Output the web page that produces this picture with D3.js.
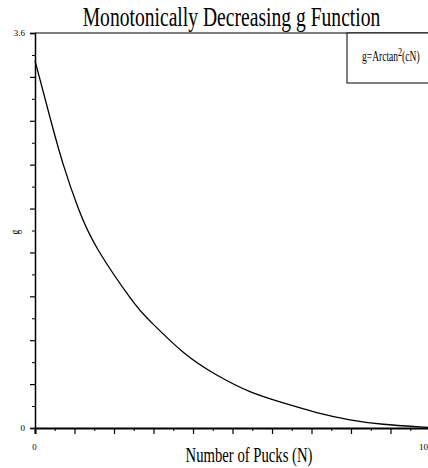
<!DOCTYPE html>
<html>
<head>
<meta charset="utf-8">
<script src="https://cdn.jsdelivr.net/npm/d3@7"></script>
<style>
  html, body { margin: 0; padding: 0; background: #fff; }
  svg { display: block; }
  text { font-family: "Liberation Serif", "Times New Roman", serif; fill: #000; }
</style>
</head>
<body>
<svg id="chart" width="428" height="468"></svg>
<script>
// Number of pucks (N) and g values along the curve
const pucks  = [0, 0.397, 0.716, 1.096, 1.603, 2.448, 2.911, 3.754, 4.600, 5.443, 6.286, 7.132, 7.975, 8.818, 9.663, 10];
const gValues = [3.348, 2.807, 2.400, 2.002, 1.620, 1.167, 0.975, 0.690, 0.483, 0.331, 0.228, 0.141, 0.075, 0.034, 0.012, 0.005];

// Axis ticks and labels
const xMajorTicks = [0, 1, 2, 3, 4, 5, 6, 7, 8, 9, 10];
const xMinorTicks = [0.5, 1.5, 2.5, 3.5, 4.5, 5.5, 6.5, 7.5, 8.5, 9.5];
const xLabelled = [0, 10];
const yMajorTicks = [0, 0.4, 0.8, 1.2, 1.6, 2.0, 2.4, 2.8, 3.2, 3.6];
const yMinorTicks = [0.2, 0.6, 1.0, 1.4, 1.8, 2.2, 2.6, 3.0, 3.4];
const yLabelled = [0, 3.6];

const titleText = "Monotonically Decreasing g Function";
const xTitle = "Number of Pucks (N)";
const yTitle = "g";

const svg = d3.select("#chart");
const plotLeft = 35, plotRight = 430, plotTop = 33, plotBottom = 428;

const x = d3.scaleLinear().domain([0, 10]).range([plotLeft, plotRight]);
const y = d3.scaleLinear().domain([0, 3.6]).range([plotBottom, plotTop]);

// frame: top and right edges
svg.append("path")
  .attr("d", `M${plotLeft},${plotTop}H${plotRight}V${plotBottom}`)
  .attr("fill", "none").attr("stroke", "#000").attr("stroke-width", 1.2);

// y axis: minor then major ticks
svg.append("g").attr("transform", `translate(${plotLeft},0)`)
  .call(d3.axisLeft(y).tickValues(yMinorTicks).tickSize(3).tickFormat(""))
  .call(g => g.select(".domain").remove());
const yAx = svg.append("g").attr("transform", `translate(${plotLeft},0)`)
  .call(d3.axisLeft(y).tickValues(yMajorTicks).tickSize(5).tickPadding(5)
    .tickFormat(d => yLabelled.includes(d) ? d3.format("~g")(d) : ""));
yAx.select(".domain").attr("stroke-width", 1.5);
yAx.selectAll("text").style("font-size", "9px");
yAx.selectAll("line").attr("stroke-width", 1.2);

// x axis: minor then major ticks
svg.append("g").attr("transform", `translate(0,${plotBottom})`)
  .call(d3.axisBottom(x).tickValues(xMinorTicks).tickSize(3).tickFormat(""))
  .call(g => g.select(".domain").remove());
const xAx = svg.append("g").attr("transform", `translate(0,${plotBottom})`)
  .call(d3.axisBottom(x).tickValues(xMajorTicks).tickSize(6).tickPadding(10)
    .tickFormat(d => xLabelled.includes(d) ? d3.format("~g")(d) : ""));
xAx.select(".domain").attr("stroke-width", 2);
xAx.selectAll("text").style("font-size", "9px")
  .attr("text-anchor", d => d === 10 ? "end" : "middle")
  .attr("dx", d => d === 10 ? -2.5 : -1);
xAx.selectAll("line").attr("stroke-width", 1.2);

// curve
const line = d3.line()
  .x((d, i) => x(pucks[i]))
  .y(d => y(d))
  .curve(d3.curveNatural);
svg.append("path")
  .datum(gValues)
  .attr("d", line)
  .attr("fill", "none")
  .attr("stroke", "#000")
  .attr("stroke-width", 1.3);

// legend box
svg.append("rect")
  .attr("x", 347).attr("y", plotTop).attr("width", plotRight - 347).attr("height", 50)
  .attr("fill", "#fff").attr("stroke", "#000").attr("stroke-width", 1);
const leg = svg.append("text")
  .attr("transform", "translate(362,60.5) scale(0.68,1)")
  .style("font-size", "14px");
leg.append("tspan").text("g=Arctan");
leg.append("tspan").attr("dy", -5).style("font-size", "12px").text("2");
leg.append("tspan").attr("dy", 5).text("(cN)");

// title
svg.append("text")
  .attr("transform", "translate(231.5,26) scale(0.70,1)")
  .attr("text-anchor", "middle")
  .style("font-size", "28px")
  .text(titleText);

// x-axis title
svg.append("text")
  .attr("transform", "translate(249,462.3) scale(0.70,1)")
  .attr("text-anchor", "middle")
  .style("font-size", "21px")
  .text(xTitle);

// y-axis title
svg.append("text")
  .attr("transform", "translate(19,232) rotate(-90) scale(0.8,1)")
  .attr("text-anchor", "middle")
  .style("font-size", "12px")
  .text(yTitle);
</script>
</body>
</html>
